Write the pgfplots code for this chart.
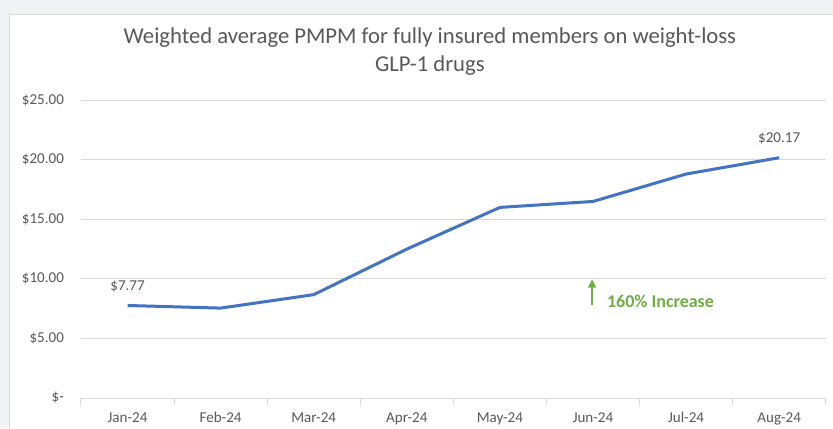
\documentclass[border=0pt]{standalone}
\usepackage{pgfplots}
\pgfplotsset{compat=1.18}
\usepackage{fontspec}
\setmainfont{Carlito}
\usetikzlibrary{arrows.meta}
\definecolor{txt}{HTML}{595959}
\definecolor{grd}{HTML}{D9D9D9}
\definecolor{ln}{HTML}{4472C4}
\definecolor{grn}{HTML}{70AD47}
\definecolor{bg}{HTML}{F2F3F5}
\begin{document}
\begin{tikzpicture}[x=0.75pt,y=0.75pt]
\fill[bg] (0,0) rectangle (833,428);
\fill[white] (9,0) rectangle (833,414);
\draw[grd] (9,0) -- (9,414) -- (833,414);
\useasboundingbox (0,0) rectangle (833,428);
\node[txt,font=\fontsize{17pt}{21pt}\selectfont,align=center] at (430,376) {Weighted average PMPM for fully insured members on weight-loss\\GLP-1 drugs};
\begin{axis}[
  at={(87,25)}, anchor=south west,
  scale only axis, width=558.75pt, height=223.5pt,
  xmin=-0.5, xmax=7.5, ymin=0, ymax=25,
  ytick={0,5,10,15,20,25},
  yticklabels={\$-\hspace{6pt},\$5.00,\$10.00,\$15.00,\$20.00,\$25.00},
  xtick={0,...,7},
  xticklabels={Jan-24,Feb-24,Mar-24,Apr-24,May-24,Jun-24,Jul-24,Aug-24},
  extra x ticks={-0.5,0.5,1.5,2.5,3.5,4.5,5.5,6.5,7.5},
  extra x tick labels={},
  extra x tick style={xtick style={draw=grd, line width=0.75pt}, major tick length=5pt, grid=none},
  /pgf/number format/assume math mode=true,
  ymajorgrids, grid style={grd, line width=0.75pt},
  axis x line*=bottom, axis y line*=left,
  y axis line style={draw=none},
  x axis line style={grd, line width=0.75pt, -},
  xtick style={draw=none},
  ytick style={draw=none},
  tick align=outside,
  every tick label/.style={font=\fontsize{11.3pt}{13pt}\selectfont, text=txt},
  yticklabel style={anchor=east, xshift=-5pt},
  xticklabel style={yshift=-3pt},
  clip=false,
]
\addplot[ln, line width=2.25pt, line join=round] coordinates {
(0,7.77) (1,7.55) (2,8.68) (3,12.5) (4,16.0) (5,16.5) (6,18.8) (7,20.17)};
\node[txt,font=\fontsize{11.3pt}{13pt}\selectfont] at (axis cs:0,9.4) {\$7.77};
\node[txt,font=\fontsize{11.3pt}{13pt}\selectfont] at (axis cs:7,21.75) {\$20.17};
\draw[grn, line width=0.9pt, -{Triangle[length=6pt,width=6pt]}] (axis cs:4.99,7.85) -- (axis cs:4.99,9.95);
\node[grn,font=\bfseries\fontsize{13.5pt}{15pt}\selectfont, anchor=west] at (axis cs:5.1,8.15) {160\% Increase};
\end{axis}
\end{tikzpicture}
\end{document}
